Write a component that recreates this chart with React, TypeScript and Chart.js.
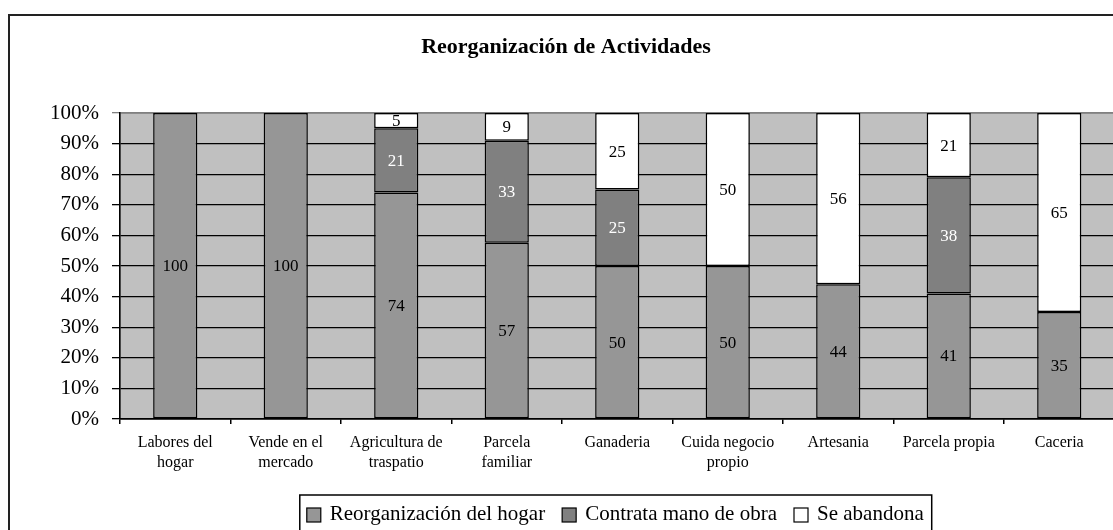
import React, { useEffect, useRef } from "react";
import { Chart, registerables } from "chart.js";

Chart.register(...registerables);

const FONT = "'Liberation Serif', 'Times New Roman', serif";

const categories: string[][] = [
  ["Labores del", "hogar"],
  ["Vende en el", "mercado"],
  ["Agricultura de", "traspatio"],
  ["Parcela", "familiar"],
  ["Ganaderia"],
  ["Cuida negocio", "propio"],
  ["Artesania"],
  ["Parcela propia"],
  ["Caceria"],
];

const reorganizacion = [100, 100, 74, 57, 50, 50, 44, 41, 35];
const contrata = [0, 0, 21, 33, 25, 0, 0, 38, 0];
const abandona = [0, 0, 5, 9, 25, 50, 56, 21, 65];

const seriesLabels = ["Reorganización del hogar", "Contrata mano de obra", "Se abandona"];
const seriesColors = ["#969696", "#808080", "#FFFFFF"];
const labelColors = ["#000000", "#FFFFFF", "#000000"];

const titleText = "Reorganización de Actividades";

const yMin = 0;
const yMax = 100;
const yStep = 10;

const rawSeries = [reorganizacion, contrata, abandona];
const totals = categories.map((_, i) => rawSeries.reduce((s, arr) => s + arr[i], 0));
const toPct = (arr: number[]) => arr.map((v, i) => (totals[i] ? (v / totals[i]) * 100 : 0));

const backgroundPlugin = {
  id: "bgFrame",
  beforeDraw(chart: any) {
    const { ctx, chartArea } = chart;
    ctx.save();
    ctx.fillStyle = "#FFFFFF";
    ctx.fillRect(0, 0, chart.width, chart.height);
    ctx.strokeStyle = "#222222";
    ctx.lineWidth = 2;
    ctx.strokeRect(9, 15, chart.width - 18, chart.height + 20);
    ctx.fillStyle = "#C0C0C0";
    ctx.fillRect(chartArea.left, chartArea.top, chartArea.right - chartArea.left, chartArea.bottom - chartArea.top);
    ctx.strokeStyle = "#808080";
    ctx.lineWidth = 1.5;
    ctx.strokeRect(chartArea.left, chartArea.top, chartArea.right - chartArea.left, chartArea.bottom - chartArea.top);
    ctx.restore();
  },
};

const valueLabelPlugin = {
  id: "valueLabels",
  afterDatasetsDraw(chart: any) {
    const { ctx } = chart;
    ctx.save();
    ctx.font = `17px ${FONT}`;
    ctx.textAlign = "center";
    ctx.textBaseline = "middle";
    chart.data.datasets.forEach((ds: any, di: number) => {
      const meta = chart.getDatasetMeta(di);
      meta.data.forEach((el: any, i: number) => {
        const raw = ds.rawValues[i];
        if (!raw) return;
        const { x, y, base } = el.getProps(["x", "y", "base"], true);
        ctx.fillStyle = ds.labelColor;
        ctx.fillText(String(raw), x, (y + base) / 2 + 1);
      });
    });
    ctx.restore();
  },
};

const boxLegendPlugin = {
  id: "boxLegend",
  afterDraw(chart: any) {
    const { ctx, chartArea } = chart;
    const sq = 14;
    const gapSqText = 9;
    const gapItems = 17;
    const padL = 7;
    const padR = 8;
    ctx.save();
    ctx.font = `21px ${FONT}`;
    const items = chart.data.datasets.map((ds: any) => ({
      label: ds.label,
      color: ds.backgroundColor,
      w: ctx.measureText(ds.label).width,
    }));
    let total = padL + padR;
    items.forEach((it: any, i: number) => {
      total += sq + gapSqText + it.w + (i < items.length - 1 ? gapItems : 0);
    });
    const cx = (chartArea.left + chartArea.right) / 2 - 1.5;
    const left = cx - total / 2;
    const top = 495;
    ctx.strokeStyle = "#000000";
    ctx.lineWidth = 1.5;
    ctx.strokeRect(left, top, total, 60);
    let x = left + padL;
    const cy = 514;
    ctx.textBaseline = "middle";
    ctx.textAlign = "left";
    items.forEach((it: any) => {
      ctx.fillStyle = it.color;
      ctx.fillRect(x, cy - sq / 2 + 1, sq, sq);
      ctx.strokeStyle = "#000000";
      ctx.lineWidth = 1.2;
      ctx.strokeRect(x, cy - sq / 2 + 1, sq, sq);
      x += sq + gapSqText;
      ctx.fillStyle = "#000000";
      ctx.fillText(it.label, x, cy);
      x += it.w + gapItems;
    });
    ctx.restore();
  },
};

export default function App() {
  const canvasRef = useRef<HTMLCanvasElement | null>(null);

  useEffect(() => {
    if (!canvasRef.current) return;
    const datasets = rawSeries.map((arr, si) => ({
      label: seriesLabels[si],
      data: toPct(arr),
      rawValues: arr,
      labelColor: labelColors[si],
      backgroundColor: seriesColors[si],
      borderColor: "#000000",
      borderWidth: 1.5,
      borderSkipped: false,
      barPercentage: 0.4,
      categoryPercentage: 1.0,
    }));

    const chart = new Chart(canvasRef.current, {
      type: "bar",
      data: { labels: categories, datasets: datasets as any },
      plugins: [backgroundPlugin, valueLabelPlugin, boxLegendPlugin],
      options: {
        responsive: false,
        animation: false,
        devicePixelRatio: 1,
        layout: { padding: { left: 17.5, right: 17.5, top: 0, bottom: 51 } },
        plugins: {
          legend: { display: false },
          tooltip: { enabled: false },
          title: {
            display: true,
            text: titleText,
            color: "#000000",
            font: { family: FONT, size: 22, weight: "bold" },
            padding: { top: 34, bottom: 52.6 },
          },
        },
        scales: {
          x: {
            stacked: true,
            offset: true,
            grid: {
              offset: true,
              drawOnChartArea: false,
              drawTicks: true,
              tickLength: 5,
              color: "#000000",
              lineWidth: 1.5,
            },
            border: { display: true, color: "#000000", width: 1.5 },
            ticks: {
              color: "#000000",
              font: { family: FONT, size: 16, lineHeight: 1.3 },
              padding: 8,
              maxRotation: 0,
              autoSkip: false,
            },
            afterFit(scale: any) {
              scale.height = 60;
            },
          },
          y: {
            stacked: true,
            min: yMin,
            max: yMax,
            grid: {
              color: (c: any) => (c.tick && c.tick.value === yMax ? "#808080" : "#000000"),
              lineWidth: 1.3,
              tickLength: 8,
              drawTicks: true,
            },
            border: { display: true, color: "#000000", width: 1.5 },
            ticks: {
              stepSize: yStep,
              color: "#000000",
              font: { family: FONT, size: 21 },
              padding: 13,
              callback: (v: any) => `${v}%`,
            },
            afterFit(scale: any) {
              scale.width = 102.5;
            },
          },
        },
      } as any,
    });
    return () => chart.destroy();
  }, []);

  return (
    <div
      style={{
        position: "fixed",
        left: 0,
        top: 0,
        width: 1113,
        height: 530,
        overflow: "hidden",
        background: "#FFFFFF",
      }}
    >
      <canvas ref={canvasRef} width={1132} height={530} style={{ display: "block", width: 1132, height: 530 }} />
    </div>
  );
}
